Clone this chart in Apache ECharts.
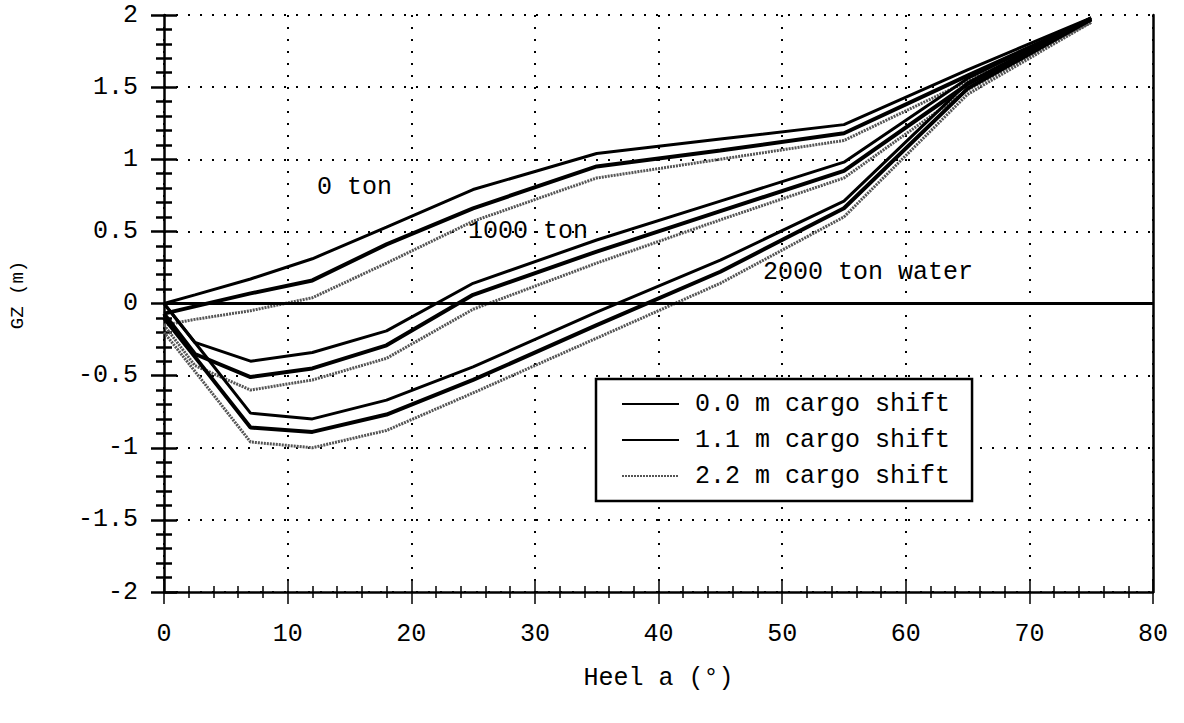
<!DOCTYPE html>
<html>
<head>
<meta charset="utf-8">
<title>GZ curves</title>
<script src="https://cdn.jsdelivr.net/npm/echarts@6/dist/echarts.min.js"></script>
<style>
  html, body { margin: 0; padding: 0; background: #fff; }
  #main { width: 1184px; height: 723px; }
</style>
</head>
<body>
<div id="main"></div>
<script>
// heel angles (deg) where the curves were sampled
var heelDeg = [0, 2.5, 7, 12, 18, 25, 35, 45, 55, 65, 75];

// GZ (m), 0 ton
var gz0t_00 = [0, 0.06, 0.17, 0.31, 0.53, 0.79, 1.04, 1.14, 1.24, 1.62, 1.98];
var gz0t_11 = [-0.07, -0.02, 0.07, 0.16, 0.41, 0.66, 0.95, 1.06, 1.18, 1.58, 1.97];
var gz0t_22 = [-0.15, -0.11, -0.05, 0.04, 0.28, 0.57, 0.87, 1.0, 1.13, 1.54, 1.95];

// GZ (m), 1000 ton
var gz1000t_00 = [0, -0.27, -0.40, -0.34, -0.19, 0.14, 0.44, 0.71, 0.98, 1.56, 1.98];
var gz1000t_11 = [-0.07, -0.35, -0.51, -0.45, -0.29, 0.06, 0.36, 0.64, 0.92, 1.52, 1.97];
var gz1000t_22 = [-0.15, -0.43, -0.60, -0.53, -0.38, -0.04, 0.28, 0.58, 0.87, 1.48, 1.95];

// GZ (m), 2000 ton water
var gz2000t_00 = [0, -0.27, -0.76, -0.80, -0.67, -0.44, -0.06, 0.30, 0.71, 1.53, 1.98];
var gz2000t_11 = [-0.1, -0.37, -0.86, -0.89, -0.77, -0.53, -0.15, 0.22, 0.66, 1.49, 1.97];
var gz2000t_22 = [-0.2, -0.47, -0.96, -1.0, -0.88, -0.62, -0.24, 0.14, 0.60, 1.45, 1.95];

var shiftNames = ['0.0 m cargo shift', '1.1 m cargo shift', '2.2 m cargo shift'];

var FONT = '"Liberation Mono", "DejaVu Sans Mono", monospace';

// line look per cargo shift
var shiftStyle = [
  { color: '#000', width: 3, type: 'solid' },
  { color: '#000', width: 4, type: 'solid' },
  { color: '#555', width: 3, type: [2, 1] }
];

function pairs(ys) {
  return heelDeg.map(function (h, i) { return [h, ys[i]]; });
}

function makeSeries(ys, shift) {
  var st = shiftStyle[shift];
  return {
    name: shiftNames[shift],
    type: 'line',
    symbol: 'none',
    color: st.color,
    lineStyle: { color: st.color, width: st.width, type: st.type },
    data: pairs(ys),
    z: 3 - shift
  };
}

var series = [
  makeSeries(gz0t_00, 0), makeSeries(gz0t_11, 1), makeSeries(gz0t_22, 2),
  makeSeries(gz1000t_00, 0), makeSeries(gz1000t_11, 1), makeSeries(gz1000t_22, 2),
  makeSeries(gz2000t_00, 0), makeSeries(gz2000t_11, 1), makeSeries(gz2000t_22, 2)
];

// solid zero line
series[0].markLine = {
  silent: true,
  symbol: ['none', 'none'],
  label: { show: false },
  lineStyle: { color: '#000', width: 3, type: 'solid' },
  data: [{ yAxis: 0 }]
};

var dotted = { show: true, lineStyle: { color: '#000', width: 2, type: [2, 10] } };
var labelStyle = { color: '#000', fontFamily: FONT, fontSize: 25 };

var chart = echarts.init(document.getElementById('main'), null, { renderer: 'svg' });

var option = {
  animation: false,
  backgroundColor: '#fff',
  grid: { left: 164, right: 31, top: 15, bottom: 131 },
  xAxis: [{
    type: 'value', min: 0, max: 80, interval: 10, position: 'bottom',
    name: 'Heel a (\u00b0)', nameLocation: 'middle', nameGap: 74,
    nameTextStyle: { color: '#000', fontFamily: FONT, fontSize: 25 },
    axisLine: { onZero: false, lineStyle: { color: '#000', width: 2.5 } },
    axisTick: { inside: true, length: 12, lineStyle: { color: '#000', width: 1.5 } },
    minorTick: { show: true, splitNumber: 5, length: 6, lineStyle: { color: '#000', width: 1.5 } },
    axisLabel: Object.assign({ margin: 30 }, labelStyle),
    splitLine: dotted
  }, {
    type: 'value', min: 0, max: 80, interval: 10, position: 'bottom',
    axisLine: { show: false, onZero: false },
    axisTick: { inside: false, length: 12, lineStyle: { color: '#000', width: 1.5 } },
    minorTick: { show: true, splitNumber: 5, length: 6, lineStyle: { color: '#000', width: 1.5 } },
    axisLabel: { show: false },
    splitLine: { show: false }
  }],
  yAxis: [{
    type: 'value', min: -2, max: 2, interval: 0.5, position: 'left',
    axisLine: { onZero: false, lineStyle: { color: '#000', width: 2.5 } },
    axisTick: { inside: true, length: 13, lineStyle: { color: '#000', width: 2.5 } },
    minorTick: { show: true, splitNumber: 5, length: 8, lineStyle: { color: '#000', width: 2.5 } },
    axisLabel: Object.assign({ margin: 26 }, labelStyle),
    splitLine: dotted
  }, {
    type: 'value', min: -2, max: 2, interval: 0.5, position: 'left',
    axisLine: { show: false, onZero: false },
    axisTick: { inside: false, length: 13, lineStyle: { color: '#000', width: 2.5 } },
    minorTick: { show: true, splitNumber: 5, length: 8, lineStyle: { color: '#000', width: 2.5 } },
    axisLabel: { show: false },
    splitLine: { show: false }
  }, {
    type: 'value', min: -2, max: 2, interval: 0.5, position: 'right',
    axisLine: { show: true, onZero: false, lineStyle: { color: '#000', width: 2.5 } },
    axisTick: { show: false },
    axisLabel: { show: false },
    splitLine: { show: false }
  }],
  legend: {
    orient: 'vertical',
    left: 596, top: 379,
    data: shiftNames,
    backgroundColor: '#fff',
    borderColor: '#000', borderWidth: 2.5, borderRadius: 0,
    padding: [12, 22, 12, 25],
    itemWidth: 57, itemHeight: 14, itemGap: 10,
    itemStyle: { opacity: 0 },
    textStyle: { color: '#000', fontFamily: FONT, fontSize: 25, lineHeight: 26, padding: [0, 0, 0, 11] }
  },
  graphic: [
    {
      type: 'text', x: 18, y: 295, rotation: Math.PI / 2,
      style: { text: 'GZ (m)', fill: '#000', font: '19px ' + FONT, align: 'center', verticalAlign: 'middle' }
    },
    { type: 'text', left: 317, top: 175, style: { text: '0 ton', fill: '#000', font: '25px ' + FONT } },
    { type: 'text', left: 468, top: 219, style: { text: '1000 ton', fill: '#000', font: '25px ' + FONT } },
    { type: 'text', left: 763, top: 260, style: { text: '2000 ton water', fill: '#000', font: '25px ' + FONT } }
  ],
  series: series
};

chart.setOption(option);
</script>
</body>
</html>
